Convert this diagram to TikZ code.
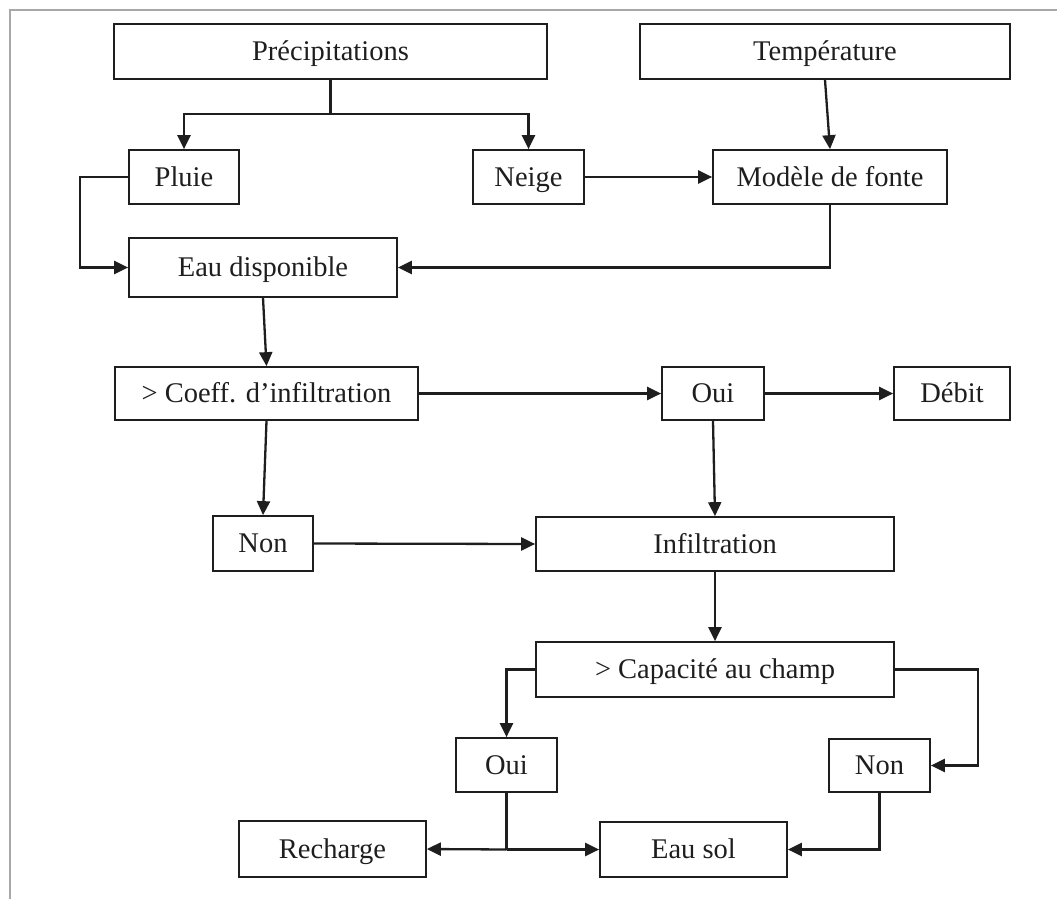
\documentclass[tikz,border=0pt]{standalone}
\usepackage{fontspec}
\setmainfont{Liberation Serif}
\usetikzlibrary{arrows.meta}
\definecolor{ink}{HTML}{1E1E1E}
\definecolor{framegray}{HTML}{A8A8A8}
\begin{document}
\begin{tikzpicture}[x=1pt,y=-1pt,
  box/.style={draw=ink, line width=1.7pt, rectangle, inner sep=0pt, text=ink,
              text height=18.5pt, text depth=0pt,
              font=\fontsize{28.5}{31}\selectfont},
  conn/.style={draw=ink, line width=2.3pt},
  arr/.style={conn, -{Triangle[length=14pt,width=13pt]}}]
\useasboundingbox (0,0) rectangle (1057,899);
\draw[framegray, line width=1.8pt] (10,899) -- (10,10) -- (1057,10);

\node[box, minimum width=433pt, minimum height=55pt] (prec) at (330.5,51.5) {Précipitations};
\node[box, minimum width=370pt, minimum height=55pt] (temp) at (825,51.5) {Température};
\node[box, minimum width=110pt, minimum height=54pt] (pluie) at (184,177) {Pluie};
\node[box, minimum width=111pt, minimum height=54pt] (neige) at (528.5,177) {Neige};
\node[box, minimum width=234pt, minimum height=54pt] (modele) at (830,177) {Modèle de fonte};
\node[box, minimum width=268pt, minimum height=59pt] (eaudisp) at (263,267.5) {Eau disponible};
\node[box, minimum width=303pt, minimum height=53pt] (coeff) at (266.5,393.5) {> Coeff. d’infiltration};
\node[box, minimum width=102pt, minimum height=53pt] (oui1) at (713,393.5) {Oui};
\node[box, minimum width=116pt, minimum height=53pt] (debit) at (952,393.5) {Débit};
\node[box, minimum width=100pt, minimum height=55pt] (non1) at (263,543.5) {Non};
\node[box, minimum width=358pt, minimum height=54pt] (infil) at (715,544) {Infiltration};
\node[box, minimum width=358pt, minimum height=55pt] (capa) at (715,669.5) {> Capacité au champ};
\node[box, minimum width=101pt, minimum height=54pt] (oui2) at (506.5,765) {Oui};
\node[box, minimum width=101pt, minimum height=53pt] (non2) at (879.5,765.5) {Non};
\node[box, minimum width=187pt, minimum height=56pt] (recharge) at (332.5,849) {Recharge};
\node[box, minimum width=187pt, minimum height=55pt] (eausol) at (693.5,849.5) {Eau sol};

\coordinate (j1) at (330.5,114);
\draw[conn] (prec.south) -- (j1);
\draw[arr] (j1) -| (pluie.north);
\draw[arr] (j1) -| (neige.north);
\draw[arr] (neige.east) -- (modele.west);
\draw[arr] (temp.south) -- (modele.north);
\draw[arr] (pluie.west) -- ++(-48,0) |- (eaudisp.west);
\draw[arr] (modele.south) |- (eaudisp.east);
\draw[arr] (eaudisp.south) -- (coeff.north);
\draw[arr] (coeff.south) -- (non1.north);
\draw[arr] (coeff.east) -- (oui1.west);
\draw[arr] (oui1.east) -- (debit.west);
\draw[arr] (oui1.south) -- (infil.north);
\draw[arr] (non1.east) -- (infil.west);
\draw[arr] (infil.south) -- (capa.north);
\draw[arr] (capa.west) -| (oui2.north);
\draw[arr] (capa.east) -- ++(83,0) |- (non2.east);
\draw[arr] (non2.south) |- (eausol.east);
\coordinate (j2) at (oui2.south |- eausol.west);
\draw[conn] (oui2.south) -- (j2);
\draw[arr] (j2) -- (recharge.east);
\draw[arr] (j2) -- (eausol.west);
\end{tikzpicture}
\end{document}
